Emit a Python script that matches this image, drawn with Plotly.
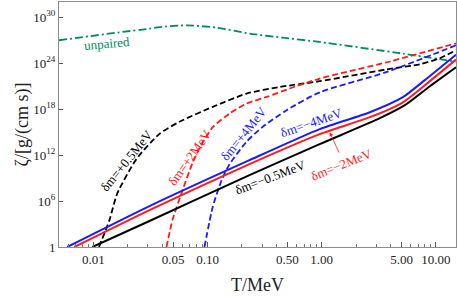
import plotly.graph_objects as go
import math

# ---------------- data ----------------
T_unpaired = [0.005, 0.0169, 0.031, 0.038, 0.0655, 0.12, 0.233, 0.455, 0.96, 5.14, 15]
Z_unpaired = [1e27, 1.1e28, 3.3e28, 5.4e28, 9e28, 4.5e28, 7.4e27, 2.2e27, 6e26, 1.8e25, 1.6e24]

T_m4 = [0.0059, 0.031, 0.233, 0.96, 2.64, 5.14, 8.0, 15]
Z_m4 = [1, 2.2e5, 2.2e11, 2.5e15, 4e17, 3.7e19, 6.3e21, 1.3e25]

T_m2 = [0.0068, 0.031, 0.233, 0.96, 2.64, 5.14, 8.0, 15]
Z_m2 = [1, 6.7e4, 6.7e10, 5.5e14, 9e16, 8e18, 1.35e21, 3e24]

T_m05 = [0.0098, 0.031, 0.233, 0.96, 3.23, 5.35, 8.86, 15]
Z_m05 = [1, 2.5e3, 2.5e9, 2.7e13, 6.7e16, 3.3e18, 1e21, 3e23]

T_p05 = [0.0112, 0.0138, 0.0162, 0.0238, 0.0379, 0.0568, 0.111, 0.22, 0.428, 0.96, 3.72, 7.24, 10.8, 15]
Z_p05 = [1, 3e3, 1e7, 3e11, 6e14, 2.3e16, 2e18, 1.1e20, 8e20, 4.5e21, 1.6e23, 7.4e23, 4.5e24, 5e25]

T_p2 = [0.0437, 0.0493, 0.0604, 0.0738, 0.085, 0.111, 0.156, 0.22, 0.33, 0.524, 0.96, 3.72, 15]
Z_p2 = [1, 3.3e3, 2.7e7, 9e10, 8e12, 4.5e15, 2.7e17, 5.5e18, 4e19, 5e20, 1e22, 1.35e24, 4e26]

T_p4 = [0.094, 0.111, 0.133, 0.156, 0.22, 0.304, 0.493, 0.96, 3.72, 15]
Z_p4 = [1, 1.7e5, 5.5e8, 6.7e10, 5.8e13, 4.9e15, 7.4e17, 1.6e20, 7.3e22, 2.2e26]

x_tickvals = [0.01, 0.05, 0.1, 0.5, 1, 5, 10]
x_ticktext = ["0.01", "0.05", "0.10", "0.50", "1.00", "5.00", "10.00"]
y_tickvals = [1, 1e6, 1e12, 1e18, 1e24, 1e30]
y_ticktext = ["1", "10<sup>6</sup>", "10<sup>12</sup>", "10<sup>18</sup>", "10<sup>24</sup>", "10<sup>30</sup>"]
x_minor = [m * d for d in (0.001, 0.01, 0.1, 1) for m in range(2, 10)]

# ---------------- styles ----------------
RED = "#ff1a1a"
BLUE = "#1a1aff"
BLACK = "#000000"
GREEN = "#008c5a"
FONT = "Liberation Serif, Times New Roman, serif"

fig = go.Figure()

def add(T, Z, color, dash, width, name):
    fig.add_trace(go.Scatter(
        x=T, y=Z, mode="lines", name=name,
        line=dict(color=color, dash=dash, width=width, shape="spline", smoothing=0.6),
        showlegend=False, hoverinfo="skip"))

add(T_unpaired, Z_unpaired, GREEN, "8px,3px,2px,3px", 1.8, "unpaired")
add(T_p05, Z_p05, BLACK, "6px,3px", 1.8, "dm=+0.5MeV")
add(T_p2, Z_p2, RED, "6px,3px", 1.8, "dm=+2MeV")
add(T_p4, Z_p4, BLUE, "6px,3px", 1.8, "dm=+4MeV")
add(T_m05, Z_m05, BLACK, "solid", 2, "dm=-0.5MeV")
add(T_m2, Z_m2, RED, "solid", 2, "dm=-2MeV")
add(T_m4, Z_m4, BLUE, "solid", 2, "dm=-4MeV")

axis_common = dict(
    showgrid=False, zeroline=False, showline=True, linecolor="#8c8c8c", linewidth=1,
    mirror=True, ticks="inside", tickcolor="#555", tickfont=dict(family=FONT, size=13, color="#222"),
)

fig.update_xaxes(type="log", range=[math.log10(0.005), math.log10(15)],
                 tickvals=x_tickvals, ticktext=x_ticktext, ticklen=5,
                 minor=dict(tickvals=x_minor, ticks="inside", ticklen=3, tickcolor="#777"),
                 **axis_common)
fig.update_yaxes(type="log", range=[0, 32],
                 tickvals=y_tickvals, ticktext=y_ticktext, ticklen=4,
                 **axis_common)

def lab(text, px, py, angle, color, size=13):
    # px, py: pixel location of label centre inside the plotting frame
    fig.add_annotation(text=text, xref="x", yref="y",
                       x=(px - 322) / 114, y=(247 - py) / 7.667,
                       textangle=angle, showarrow=False,
                       font=dict(family=FONT, size=size, color=color))

lab("unpaired", 108, 43, -5, GREEN)
lab("δm=+0.5MeV", 127, 160, -51, BLACK)
lab("δm=+2MeV", 190, 157, -55, RED)
lab("δm=+4MeV", 244, 133, -51, BLUE)
lab("δm=−4MeV", 312, 122, -19, BLUE)
lab("δm=−0.5MeV", 270, 177, -21, BLACK)
lab("δm=−2MeV", 342, 164, -22, RED)

# pointer from the -2MeV label to its curve
fig.add_annotation(xref="x", yref="y", x=(330 - 322) / 114, y=(247 - 132) / 7.667,
                   ax=10, ay=22, text="", showarrow=True, arrowhead=2, arrowsize=1,
                   arrowwidth=0.8, arrowcolor=RED)

# axis titles
fig.add_annotation(text="ζ/[g/(cm s)]", xref="paper", yref="paper", x=0, y=0.5,
                   xshift=-37, textangle=-90, showarrow=False, xanchor="center", yanchor="middle",
                   font=dict(family=FONT, size=18, color="#222"))
fig.add_annotation(text="T/MeV", xref="paper", yref="paper", x=0.5, y=0,
                   yshift=-38, showarrow=False, xanchor="center", yanchor="middle",
                   font=dict(family=FONT, size=18, color="#222"))

fig.update_layout(width=457, height=297, margin=dict(l=59, r=1, t=2, b=50),
                  plot_bgcolor="white", paper_bgcolor="white")

fig.write_html("out.html", config={"displayModeBar": False},
               post_script="document.body.style.margin='0';document.body.style.overflow='hidden';")
